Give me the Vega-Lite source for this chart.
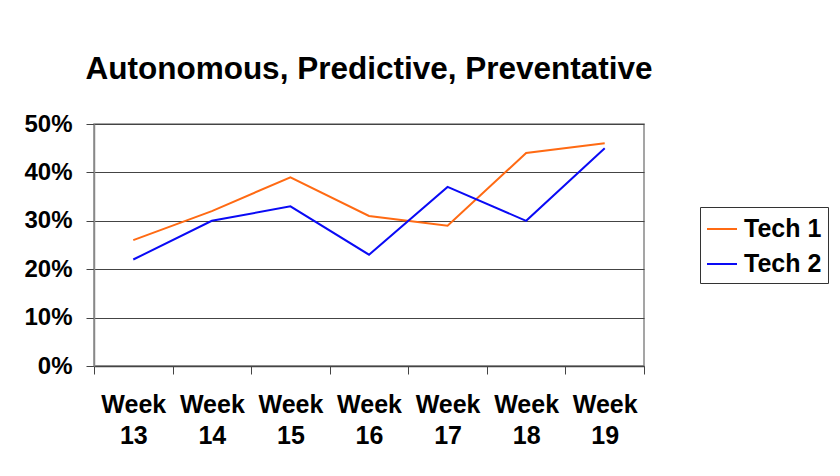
{
  "$schema": "https://vega.github.io/schema/vega-lite/v6.json",
  "autosize": "none",
  "width": 550,
  "height": 242,
  "padding": {"left": 94, "top": 124, "right": 196, "bottom": 110},
  "background": "white",
  "title": {
    "text": "Autonomous, Predictive, Preventative",
    "font": "Liberation Sans",
    "fontSize": 31.5,
    "fontWeight": "bold",
    "color": "black",
    "anchor": "middle",
    "offset": 27
  },
  "config": {
    "view": {"stroke": "#888888", "strokeWidth": 1.5},
    "font": "Liberation Sans"
  },
  "data": {
    "values": [
      {"week": "Week 13", "series": "Tech 1", "value": 0.26},
      {"week": "Week 14", "series": "Tech 1", "value": 0.32},
      {"week": "Week 15", "series": "Tech 1", "value": 0.39},
      {"week": "Week 16", "series": "Tech 1", "value": 0.31},
      {"week": "Week 17", "series": "Tech 1", "value": 0.29},
      {"week": "Week 18", "series": "Tech 1", "value": 0.44},
      {"week": "Week 19", "series": "Tech 1", "value": 0.46},
      {"week": "Week 13", "series": "Tech 2", "value": 0.22},
      {"week": "Week 14", "series": "Tech 2", "value": 0.30},
      {"week": "Week 15", "series": "Tech 2", "value": 0.33},
      {"week": "Week 16", "series": "Tech 2", "value": 0.23},
      {"week": "Week 17", "series": "Tech 2", "value": 0.37},
      {"week": "Week 18", "series": "Tech 2", "value": 0.30},
      {"week": "Week 19", "series": "Tech 2", "value": 0.45}
    ]
  },
  "mark": {"type": "line", "strokeWidth": 2},
  "encoding": {
    "x": {
      "field": "week",
      "type": "ordinal",
      "scale": {"type": "band", "paddingInner": 0, "paddingOuter": 0},
      "axis": {
        "title": null,
        "labelAngle": 0,
        "tickBand": "extent",
        "tickSize": 8,
        "tickColor": "#444444",
        "domainColor": "#444444",
        "domainWidth": 1.5,
        "labelExpr": "split(datum.label, ' ')",
        "labelFont": "Liberation Sans",
        "labelFontSize": 25,
        "labelFontWeight": "bold",
        "labelColor": "black",
        "labelLineHeight": 31,
        "labelPadding": 18,
        "grid": false
      }
    },
    "y": {
      "field": "value",
      "type": "quantitative",
      "scale": {"domain": [0, 0.5], "nice": false},
      "axis": {
        "title": null,
        "format": ".0%",
        "values": [0, 0.1, 0.2, 0.3, 0.4, 0.5],
        "grid": true,
        "gridColor": "#444444",
        "gridWidth": 1.2,
        "gridOpacity": 1,
        "domainColor": "#888888",
        "domainWidth": 1.5,
        "tickSize": 8,
        "tickColor": "#444444",
        "labelFont": "Liberation Sans",
        "labelFontSize": 24,
        "labelFontWeight": "bold",
        "labelColor": "black",
        "labelPadding": 14
      }
    },
    "color": {
      "field": "series",
      "type": "nominal",
      "scale": {"domain": ["Tech 1", "Tech 2"], "range": ["#FF6A13", "#0A0AF5"]},
      "legend": {
        "title": null,
        "orient": "none",
        "legendX": 606,
        "legendY": 83,
        "strokeColor": "#333333",
        "fillColor": "white",
        "padding": 6,
        "symbolType": "stroke",
        "symbolSize": 900,
        "symbolStrokeWidth": 2,
        "labelFont": "Liberation Sans",
        "labelFontSize": 25,
        "labelFontWeight": "bold",
        "labelColor": "black",
        "labelOffset": 6,
        "rowPadding": 6
      }
    }
  }
}
